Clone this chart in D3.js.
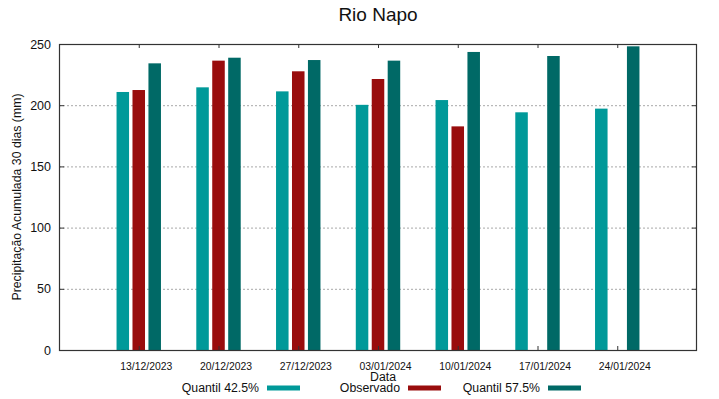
<!DOCTYPE html>
<html><head><meta charset="utf-8">
<script src="https://cdn.jsdelivr.net/npm/d3@7"></script>
<style>body{margin:0;background:#fff}svg{display:block;font-family:"Liberation Sans",Arial,sans-serif}</style>
</head><body><svg id="c" width="719" height="399"></svg>
<script>
const dates = ["13/12/2023","20/12/2023","27/12/2023","03/01/2024","10/01/2024","17/01/2024","24/01/2024"];
const q425 = [210.8, 214.6, 211.3, 200.3, 204.2, 194.2, 197.2];
const observado = [212.4, 236.4, 227.7, 221.4, 182.7, null, null];
const q575 = [234.2, 238.8, 236.9, 236.4, 243.5, 240.2, 248.1];
const yTicks = [0, 50, 100, 150, 200, 250];
const gridVals = [50, 100, 150, 200];
const seriesNames = ["Quantil 42.5%", "Observado", "Quantil 57.5%"];
const colors = ["#009999", "#990d0d", "#006966"];

const svg = d3.select("#c");
const L = 59, R = 697, T = 44, B = 350;
const x = d3.scaleLinear().domain([-1, 7]).range([L, R]);
const y = d3.scaleLinear().domain([0, 250]).range([B, T]);

// title
svg.append("text").attr("x", 378).attr("y", 21).attr("text-anchor", "middle")
  .attr("font-size", 19).attr("fill", "#111").text("Rio Napo");

// grid
svg.append("g").selectAll("line").data(gridVals).join("line")
  .attr("x1", L).attr("x2", R).attr("y1", d => y(d) + 0.5).attr("y2", d => y(d) + 0.5)
  .attr("stroke", "#a8a8a8").attr("stroke-width", 1).attr("stroke-dasharray", "2,2");

// bars
const series = [q425, observado, q575];
const off = [-0.2, 0, 0.2];
const bw = x(0.157) - x(0);
series.forEach((s, si) => {
  svg.append("g").selectAll("rect").data(s.map((v, i) => ({v, i})).filter(d => d.v != null)).join("rect")
    .attr("x", d => x(d.i + off[si]) - bw / 2)
    .attr("width", bw)
    .attr("y", d => y(d.v))
    .attr("height", d => B - y(d.v))
    .attr("fill", colors[si]);
});

// axes
const idx = d3.range(dates.length);
const gb = svg.append("g").attr("transform", `translate(0,${B})`)
  .call(d3.axisBottom(x).tickValues(idx).tickFormat(i => dates[i]).tickSizeInner(-4).tickSizeOuter(0));
gb.select(".domain").remove();
gb.selectAll("text").attr("y", 20).attr("dy", 0).attr("dx", 7).attr("font-size", 10.4).attr("fill", "#111")
  .attr("font-family", '"Liberation Sans",Arial,sans-serif');
gb.selectAll("line").attr("stroke", "#333");

const gt = svg.append("g").attr("transform", `translate(0,${T})`)
  .call(d3.axisTop(x).tickValues(idx).tickFormat("").tickSizeInner(-4).tickSizeOuter(0));
gt.select(".domain").remove();
gt.selectAll("line").attr("stroke", "#333");

const gl = svg.append("g").attr("transform", `translate(${L},0)`)
  .call(d3.axisLeft(y).tickValues(yTicks).tickSizeInner(-5).tickSizeOuter(0).tickPadding(8));
gl.select(".domain").remove();
gl.selectAll("text").attr("font-size", 12.5).attr("fill", "#111")
  .attr("font-family", '"Liberation Sans",Arial,sans-serif');
gl.selectAll("line").attr("stroke", "#333");

const gr = svg.append("g").attr("transform", `translate(${R},0)`)
  .call(d3.axisRight(y).tickValues(yTicks).tickFormat("").tickSizeInner(-5).tickSizeOuter(0));
gr.select(".domain").remove();
gr.selectAll("line").attr("stroke", "#333");

// frame
svg.append("rect").attr("x", L + 0.5).attr("y", T + 0.5).attr("width", R - L - 1).attr("height", B - T)
  .attr("fill", "none").attr("stroke", "#333").attr("stroke-width", 1.2);

// y label
svg.append("text").attr("transform", `translate(21,${(T + B) / 2}) rotate(-90)`)
  .attr("text-anchor", "middle").attr("font-size", 12.3).attr("fill", "#111")
  .text("Precipitação Acumulada 30 dias (mm)");

// x label
svg.append("text").attr("x", 383).attr("y", 381).attr("text-anchor", "middle")
  .attr("font-size", 12.3).attr("fill", "#111").text("Data");

// legend
const legX = [259, 400, 540];
seriesNames.forEach((n, i) => {
  svg.append("text").attr("x", legX[i]).attr("y", 392).attr("text-anchor", "end")
    .attr("font-size", 12.3).attr("fill", "#111").text(n);
  svg.append("rect").attr("x", legX[i] + 8).attr("y", 385.5).attr("width", 33).attr("height", 5)
    .attr("fill", colors[i]);
});
</script></body></html>
